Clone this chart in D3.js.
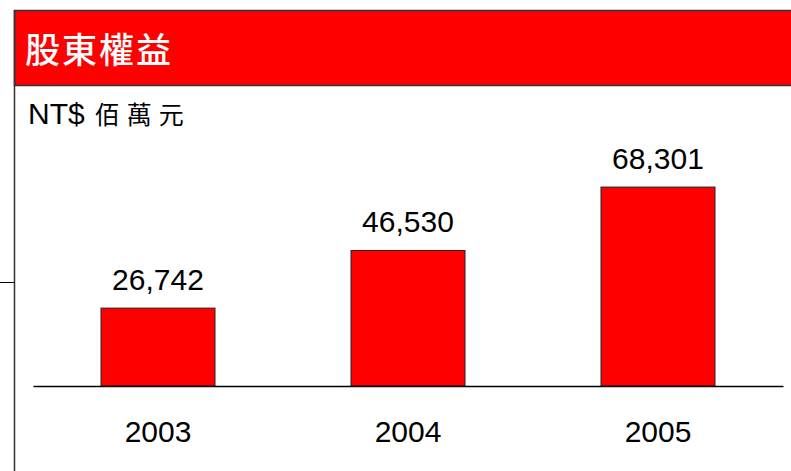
<!DOCTYPE html>
<html>
<head>
<meta charset="utf-8">
<script src="https://cdn.jsdelivr.net/npm/d3@7"></script>
<style>
  body { margin: 0; background: #fff; }
  svg { display: block; }
</style>
</head>
<body>
<div id="chart"></div>
<script>
var years = ["2003", "2004", "2005"];
var equity = [26742, 46530, 68301];
var titleText = "股東權益";
var unitText = "NT$";
var unitCjk = "佰萬元";

var W = 791, H = 471;
var svg = d3.select("#chart").append("svg")
    .attr("width", W).attr("height", H);

// 標題紅色區塊
svg.append("rect")
    .attr("x", 14.5).attr("y", 10.5)
    .attr("width", W).attr("height", 75)
    .attr("fill", "#ff0000")
    .attr("stroke", "#333").attr("stroke-width", 1.5);

svg.append("text")
    .attr("x", 25).attr("y", 63)
    .attr("fill", "#fff")
    .style("font-family", "'Noto Sans CJK TC', serif")
    .style("font-size", "35px")
    .style("font-weight", "500")
    .style("letter-spacing", "2px")
    .text(titleText);

// 左側框線與刻度
svg.append("line")
    .attr("x1", 14.5).attr("x2", 14.5)
    .attr("y1", 10).attr("y2", H)
    .attr("stroke", "#333").attr("stroke-width", 1.5);
svg.append("line")
    .attr("x1", 0).attr("x2", 14)
    .attr("y1", 282.5).attr("y2", 282.5)
    .attr("stroke", "#000").attr("stroke-width", 1);

var unit = svg.append("text")
    .attr("x", 28).attr("y", 124)
    .attr("fill", "#000");
unit.append("tspan")
    .style("font-family", "'Liberation Sans', Arial, sans-serif")
    .style("font-size", "30px")
    .text(unitText);
unit.append("tspan")
    .attr("dx", 10)
    .style("font-family", "'Noto Sans CJK TC', serif")
    .style("font-size", "25px")
    .style("letter-spacing", "7px")
    .text(unitCjk);

// 比例尺
var x = d3.scaleBand()
    .domain(years)
    .range([33, 783])
    .paddingInner(0.544)
    .paddingOuter(0.272);

var y = d3.scaleLinear()
    .domain([0, 80000])
    .range([386, 153]);

var bars = svg.append("g");
bars.selectAll("rect")
    .data(equity)
    .enter().append("rect")
    .attr("x", function(d, i) { return x(years[i]); })
    .attr("y", function(d) { return y(d); })
    .attr("width", x.bandwidth())
    .attr("height", function(d) { return y(0) - y(d); })
    .attr("fill", "#ff0000")
    .attr("stroke", "#222").attr("stroke-width", 1);

bars.selectAll("text")
    .data(equity)
    .enter().append("text")
    .attr("x", function(d, i) { return x(years[i]) + x.bandwidth() / 2; })
    .attr("y", function(d) { return y(d) - 18; })
    .attr("text-anchor", "middle")
    .style("font-family", "'Liberation Sans', Arial, sans-serif")
    .style("font-size", "30px")
    .attr("fill", "#000")
    .text(function(d) { return d3.format(",")(d); });

// X 軸
var axis = svg.append("g")
    .attr("transform", "translate(0," + y(0) + ")")
    .call(d3.axisBottom(x).tickSize(0).tickPadding(35));
axis.select(".domain")
    .attr("stroke", "#000").attr("stroke-width", 1.5);
axis.selectAll("text")
    .style("font-family", "'Liberation Sans', Arial, sans-serif")
    .style("font-size", "30px")
    .attr("fill", "#000");
</script>
</body>
</html>
